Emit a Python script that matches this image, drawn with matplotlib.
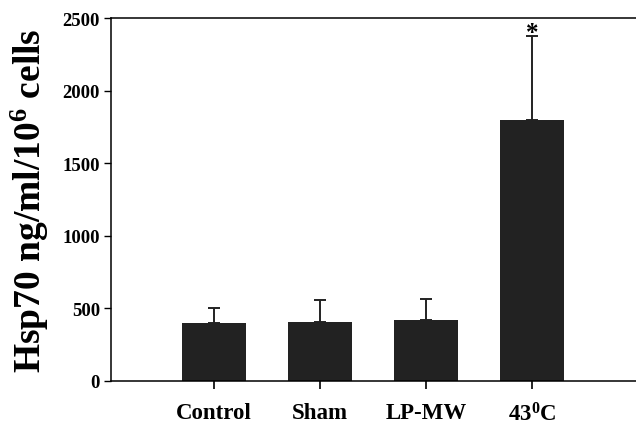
import matplotlib.pyplot as plt

plt.rcParams['font.family'] = ['Liberation Serif', 'DejaVu Serif']
plt.rcParams['font.weight'] = 'bold'
plt.rcParams['mathtext.fontset'] = 'custom'
plt.rcParams['mathtext.rm'] = 'Liberation Serif:bold'
plt.rcParams['mathtext.it'] = 'Liberation Serif:bold'
plt.rcParams['mathtext.bf'] = 'Liberation Serif:bold'

# data
groups = ['Control', 'Sham', 'LP-MW', r'43$^{0}$C']
hsp70 = [400, 405, 420, 1795]
sem = [105, 155, 145, 580]
significant = [False, False, False, True]

fig = plt.figure(figsize=(6.36, 4.27), dpi=100)
ax = fig.add_axes([0.1745, 0.1054, 0.8255, 0.8501])

x = list(range(len(groups)))
ax.bar(x, hsp70, width=0.61, color='#222222', zorder=2)
ax.errorbar(x, hsp70, yerr=[[0] * len(sem), sem], fmt='none', ecolor='#222222',
            elinewidth=1.4, capsize=4.5, capthick=1.4, zorder=1)

for xi, v, e, sig in zip(x, hsp70, sem, significant):
    if sig:
        ax.annotate('*', (xi, v + e), xytext=(0, -2), textcoords='offset points',
                    ha='center', va='baseline', fontsize=18, fontweight='bold')

ax.set_xlim(-0.97, 3.98)
ax.set_ylim(0, 2500)
ax.set_yticks([0, 500, 1000, 1500, 2000, 2500])
ax.set_xticks(x)
ax.set_xticklabels(groups, fontsize=16.5, fontweight='bold')
ax.tick_params(axis='y', labelsize=13.5, length=5, width=1, direction='out', pad=3)
ax.tick_params(axis='x', length=6, width=1.2, direction='out', pad=9)
for lab in ax.get_yticklabels():
    lab.set_fontweight('bold')

ax.set_ylabel(r'Hsp70 ng/ml/10$^{6}$ cells', fontsize=27, fontweight='bold', labelpad=8)

ax.spines['right'].set_visible(False)
for s in ['left', 'bottom', 'top']:
    ax.spines[s].set_linewidth(1.1)

fig.savefig('out.png', dpi=100)
